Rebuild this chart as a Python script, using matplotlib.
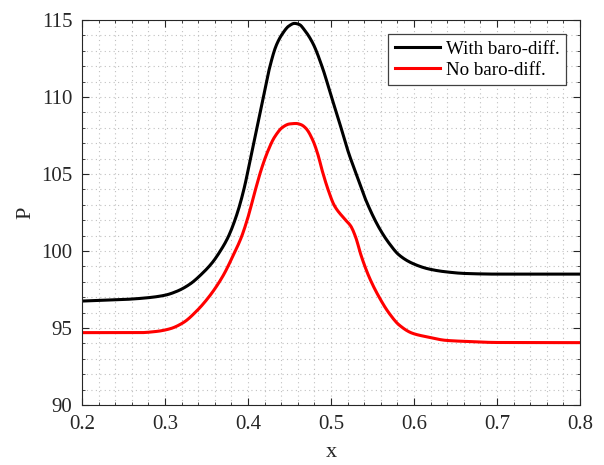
import numpy as np
import matplotlib.pyplot as plt
from matplotlib.ticker import MultipleLocator

plt.rcParams['font.family'] = ['Liberation Serif', 'DejaVu Serif']

# Curva com difusão barométrica
x_with = [0.200, 0.250, 0.280, 0.300, 0.315, 0.330, 0.345, 0.357, 0.366, 0.376, 0.387,
          0.395, 0.403, 0.410, 0.418, 0.426, 0.434, 0.442, 0.449, 0.456, 0.462, 0.468,
          0.478, 0.490, 0.500, 0.510, 0.521, 0.530, 0.542, 0.558, 0.570, 0.582, 0.598,
          0.618, 0.638, 0.662, 0.700, 0.800]
p_with = [96.75, 96.85, 96.97, 97.13, 97.4, 97.85, 98.55, 99.25, 99.95, 100.9, 102.45,
          104.0, 106.0, 107.8, 109.9, 111.9, 113.35, 114.15, 114.6, 114.78, 114.7, 114.35,
          113.5, 111.85, 110.1, 108.37, 106.4, 105.05, 103.3, 101.5, 100.5, 99.74, 99.2,
          98.83, 98.65, 98.54, 98.5, 98.5]

# Curva sem difusão barométrica
x_no = [0.200, 0.270, 0.290, 0.306, 0.322, 0.338, 0.354, 0.370, 0.382, 0.392, 0.400,
        0.408, 0.416, 0.424, 0.432, 0.442, 0.450, 0.458, 0.464, 0.470, 0.478, 0.484,
        0.490, 0.497, 0.504, 0.516, 0.524, 0.530, 0.536, 0.546, 0.558, 0.570, 0.582,
        0.598, 0.618, 0.638, 0.662, 0.700, 0.800]
p_no = [94.7, 94.7, 94.78, 94.95, 95.35, 96.1, 97.1, 98.4, 99.7, 100.9, 102.2,
        103.8, 105.3, 106.5, 107.4, 108.05, 108.25, 108.28, 108.2, 107.95, 107.2, 106.3,
        105.1, 103.9, 102.95, 102.1, 101.6, 100.85, 99.75, 98.3, 97.0, 95.96, 95.2,
        94.66, 94.4, 94.2, 94.13, 94.06, 94.05]


def smooth(xs, ys, n=600):
    # interpolação PCHIP só para desenhar a curva lisa entre os pontos lidos
    xs = np.asarray(xs, float)
    ys = np.asarray(ys, float)
    h = np.diff(xs)
    d = np.diff(ys) / h
    m = np.zeros_like(ys)
    for i in range(1, len(ys) - 1):
        if d[i - 1] * d[i] > 0:
            w1 = 2 * h[i] + h[i - 1]
            w2 = h[i] + 2 * h[i - 1]
            m[i] = (w1 + w2) / (w1 / d[i - 1] + w2 / d[i])
    m[0] = d[0]
    m[-1] = d[-1]
    xx = np.linspace(xs[0], xs[-1], n)
    idx = np.clip(np.searchsorted(xs, xx) - 1, 0, len(xs) - 2)
    t = (xx - xs[idx]) / h[idx]
    h00 = 2 * t**3 - 3 * t**2 + 1
    h10 = t**3 - 2 * t**2 + t
    h01 = -2 * t**3 + 3 * t**2
    h11 = t**3 - t**2
    yy = h00 * ys[idx] + h10 * h[idx] * m[idx] + h01 * ys[idx + 1] + h11 * h[idx] * m[idx + 1]
    return xx, yy


fig = plt.figure(figsize=(6.04, 4.65), dpi=100)
ax = fig.add_axes([0.1358, 0.129, 0.8245, 0.828])

xs, ys = smooth(x_with, p_with)
ax.plot(xs, ys, color='black', lw=2.2, label='With baro-diff.')
xs, ys = smooth(x_no, p_no)
ax.plot(xs, ys, color='red', lw=2.2, label='No baro-diff.')

ax.set_xlim(0.2, 0.8)
ax.set_ylim(90, 115)
ax.xaxis.set_major_locator(MultipleLocator(0.1))
ax.xaxis.set_minor_locator(MultipleLocator(0.02))
ax.yaxis.set_major_locator(MultipleLocator(5))
ax.yaxis.set_minor_locator(MultipleLocator(1))
ax.grid(which='both', linestyle=(0, (1, 3)), color='#c0c0c0', linewidth=0.8)
ax.tick_params(which='both', direction='in', top=True, right=True, labelsize=15,
               colors='#262626', pad=7)
ax.tick_params(which='major', length=5)
ax.tick_params(which='minor', length=2.5)
for sp in ax.spines.values():
    sp.set_color('#262626')
    sp.set_linewidth(0.8)

ax.set_xlabel('x', fontsize=16, color='#262626', labelpad=7)
ax.set_ylabel('P', fontsize=16, color='#262626', labelpad=4)

leg = ax.legend(loc='upper right', fontsize=13.7, fancybox=False, framealpha=1,
                edgecolor='#404040', handlelength=2.4, handletextpad=0.3,
                borderpad=0.35, labelspacing=0.2, borderaxespad=0.72)
leg.get_frame().set_linewidth(0.9)

plt.savefig('out.png', dpi=100)
